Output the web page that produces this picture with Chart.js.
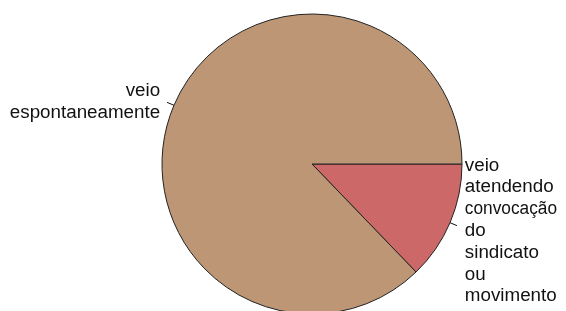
<!DOCTYPE html>
<html>
<head>
<meta charset="utf-8">
<script src="https://cdn.jsdelivr.net/npm/chart.js@4"></script>
<style>
  html, body { margin: 0; padding: 0; background: #ffffff; overflow: hidden; }
  canvas { display: block; }
</style>
</head>
<body>
<canvas id="c" width="566" height="330"></canvas>
<script>
// Categories (multi-line labels) and shares, drawn clockwise from 3 o'clock
const categories = [
  ["veio", "atendendo", "convocação", "do", "sindicato", "ou", "movimento"],
  ["veio", "espontaneamente"]
];
const shares = [12.8, 87.2];
const sliceColors = ["#CD6868", "#BD9675"];

const labelPlugin = {
  id: 'pieLabels',
  afterDraw(chart) {
    const ctx = chart.ctx;
    const meta = chart.getDatasetMeta(0);
    ctx.save();
    ctx.font = '18.8px "Liberation Sans", Arial, sans-serif';
    ctx.fillStyle = '#111';
    ctx.strokeStyle = '#111';
    ctx.lineWidth = 1;
    const lineH = 21.8;
    meta.data.forEach((arc, i) => {
      const p = arc.getProps(['x', 'y', 'startAngle', 'endAngle', 'outerRadius'], true);
      const mid = (p.startAngle + p.endAngle) / 2;
      const c = Math.cos(mid), s = Math.sin(mid);
      const r = p.outerRadius;
      ctx.beginPath();
      ctx.moveTo(p.x + c * r, p.y + s * r);
      ctx.lineTo(p.x + c * r * 1.05, p.y + s * r * 1.05);
      ctx.stroke();
      const lx = p.x + c * r * 1.1;
      const ly = p.y + s * r * 1.1;
      const lines = chart.data.labels[i];
      ctx.textAlign = c >= 0 ? 'left' : 'right';
      ctx.textBaseline = 'alphabetic';
      const n = lines.length;
      const maxW = c >= 0 ? chart.width - lx - 10 : lx;
      lines.forEach((t, k) => {
        ctx.fillText(t, lx + (c >= 0 ? 1 : 0), ly + (k - (n - 1) / 2) * lineH + 7.5, maxW);
      });
    });
    ctx.restore();
  }
};

new Chart(document.getElementById('c'), {
  type: 'pie',
  data: {
    labels: categories,
    datasets: [{
      data: shares,
      backgroundColor: sliceColors,
      borderColor: '#222',
      borderWidth: 1
    }]
  },
  options: {
    responsive: false,
    animation: false,
    rotation: 90,
    layout: { padding: { left: 161.5, right: 103.5, top: 13.5, bottom: 15.5 } },
    plugins: { legend: { display: false }, tooltip: { enabled: false } }
  },
  plugins: [labelPlugin]
});
</script>
</body>
</html>
